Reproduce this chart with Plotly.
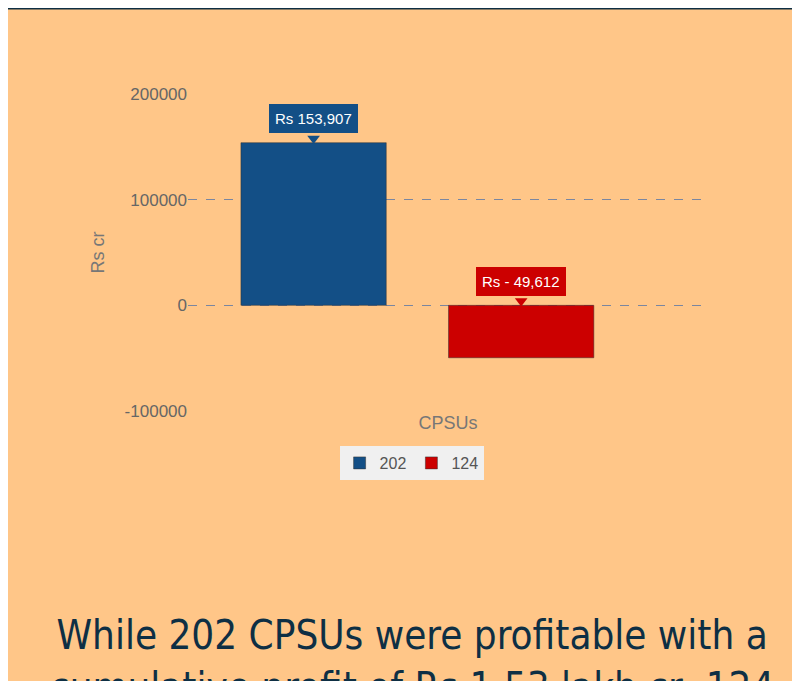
import plotly.graph_objects as go

groups = ["202", "124"]
values = [153907, -49612]
labels = ["Rs 153,907", "Rs - 49,612"]
colors = ["#134f86", "#cc0000"]
xpos = [0, 1]

fig = go.Figure()
for i in range(2):
    fig.add_trace(go.Bar(x=[xpos[i]], y=[values[i]], name=groups[i], width=0.7,
                         marker=dict(color=colors[i], line=dict(color="#333333", width=0.5))))
    top = max(values[i], 0)
    fig.add_trace(go.Scatter(x=[xpos[i]], y=[top + 4000], mode="markers", showlegend=False,
                             marker=dict(symbol="triangle-down", size=11, color=colors[i]),
                             hoverinfo="skip"))
    fig.add_annotation(x=xpos[i], y=top, text=labels[i], showarrow=False, yshift=24,
                       bgcolor=colors[i], borderpad=5, bordercolor=colors[i],
                       font=dict(color="white", size=15, family="Arial"))

fig.add_annotation(xref="paper", yref="paper", x=0.43, y=-0.87, yanchor="middle",
                   showarrow=False,
                   text="While 202 CPSUs were profitable with a<br>cumulative profit of Rs 1.53 lakh cr, 124<br>incurred losses amounting to Rs 49,612 cr",
                   font=dict(size=40, color="#0e2f44", family="DejaVu Sans Condensed, Roboto Condensed, sans-serif"))
fig.add_shape(type="line", xref="paper", yref="paper", x0=-0.4, x1=1.3, y0=1.27, y1=1.27,
              line=dict(color="#0e2f44", width=2))

fig.update_layout(
    width=800, height=681, paper_bgcolor="#ffc688", plot_bgcolor="#ffc688",
    margin=dict(l=180, r=100, t=86, b=278), barmode="overlay",
    font=dict(family="Arial", color="#666666"),
    legend=dict(orientation="h", x=0.43, xanchor="center", y=-0.164, yanchor="middle",
                bgcolor="#f0f0f0", font=dict(size=16, color="#555555")),
    xaxis=dict(range=[-0.605, 1.9], showticklabels=False, showgrid=False, zeroline=False,
               title=dict(text="CPSUs", font=dict(size=18, color="#777777"), standoff=5)),
    yaxis=dict(range=[-100000, 200000], tickvals=[-100000, 0, 100000, 200000],
               ticktext=["-100000", "0", "100000", "200000"], tickfont=dict(size=17),
               gridcolor="#7a86a0", griddash="dash", zeroline=False,
               title=dict(text="Rs cr", font=dict(size=18, color="#777777"))),
)
fig.write_html("out.html")
